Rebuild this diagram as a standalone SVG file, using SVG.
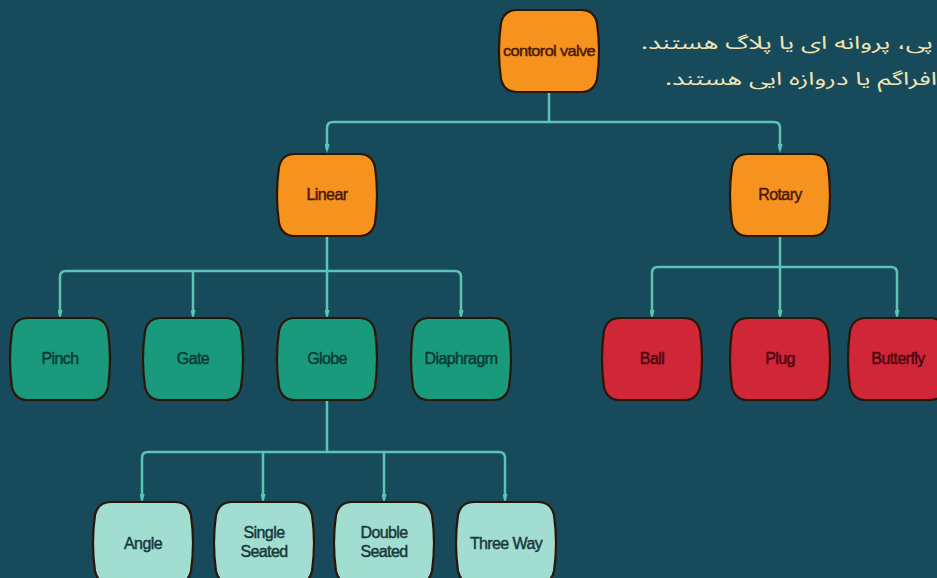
<svg xmlns="http://www.w3.org/2000/svg" xmlns:xlink="http://www.w3.org/1999/xlink" width="937" height="578" viewBox="0 0 937 578">
<style>
.bg{fill:#174a5a}
.node use{stroke:#2a1608;stroke-width:2.2}
.orange{fill:#f6921e}
.green{fill:#1a9a7c}
.red{fill:#cf2638}
.light{fill:#a2ddd2}
.lbl{font-family:"Liberation Sans",Arial,sans-serif;font-size:16px;text-anchor:middle;letter-spacing:-0.6px;stroke-width:0.45px}
.to{fill:#4a1a04;stroke:#4a1a04}
.tg{fill:#0d3a32;stroke:#0d3a32}
.tr{fill:#4d0810;stroke:#4d0810}
.tl{fill:#17393a;stroke:#17393a}
.conn{fill:none;stroke:#5cc4b6;stroke-width:2.5}
.fa{font-family:"Noto Sans Arabic","DejaVu Sans",sans-serif;font-size:18px;fill:#f3e4b4}
</style>
<defs>
<path id="shape" d="M18,0 H82 Q95,0 98,13 Q102,41 98,69 Q95,82 82,82 H18 Q5,82 2,69 Q-2,41 2,13 Q5,0 18,0 Z"/>
<marker id="arr" markerUnits="userSpaceOnUse" markerWidth="12" markerHeight="18" viewBox="-6 -16 12 18" refX="0" refY="0" orient="auto-start-reverse">
<path d="M-4,-14 H4 L0,0 Z" fill="none" stroke="#5cc4b6" stroke-width="1.8" transform="rotate(-90)"/>
</marker>
</defs>
<rect class="bg" width="937" height="578"/>
<text class="fa" x="641" y="49" direction="rtl" text-anchor="end" textLength="292" lengthAdjust="spacingAndGlyphs">پی، پروانه ای یا پلاگ هستند.</text>
<text class="fa" x="665" y="85" direction="rtl" text-anchor="end" textLength="272" lengthAdjust="spacingAndGlyphs">افراگم یا دروازه ایی هستند.</text>
<g id="connectors">
<path class="conn" d="M549,92 V122"/>
<path class="conn" d="M327,150 V128 Q327,122 333,122 H774 Q780,122 780,128 V150" marker-start="url(#arr)" marker-end="url(#arr)"/>
<path class="conn" d="M327,236 V271"/>
<path class="conn" d="M60,316 V277 Q60,271 66,271 H455 Q461,271 461,277 V316" marker-start="url(#arr)" marker-end="url(#arr)"/>
<path class="conn" d="M193,271 V316" marker-end="url(#arr)"/>
<path class="conn" d="M327,271 V316" marker-end="url(#arr)"/>
<path class="conn" d="M780,236 V267"/>
<path class="conn" d="M652,316 V273 Q652,267 658,267 H891 Q897,267 897,273 V316" marker-start="url(#arr)" marker-end="url(#arr)"/>
<path class="conn" d="M780,267 V316" marker-end="url(#arr)"/>
<path class="conn" d="M327,400 V452"/>
<path class="conn" d="M142,500 V458 Q142,452 148,452 H499 Q505,452 505,458 V500" marker-start="url(#arr)" marker-end="url(#arr)"/>
<path class="conn" d="M263,452 V500" marker-end="url(#arr)"/>
<path class="conn" d="M384,452 V500" marker-end="url(#arr)"/>
</g>
<g id="n-root" class="node orange"><use xlink:href="#shape" href="#shape" x="499" y="10"/><text class="lbl to" x="549" y="56" style="font-size:15px" textLength="92" lengthAdjust="spacingAndGlyphs">contorol valve</text></g>
<g id="n-linear" class="node orange"><use href="#shape" xlink:href="#shape" x="277" y="154"/><text class="lbl to" x="327" y="200">Linear</text></g>
<g id="n-rotary" class="node orange"><use href="#shape" xlink:href="#shape" x="730" y="154"/><text class="lbl to" x="780" y="200">Rotary</text></g>
<g id="n-pinch" class="node green"><use href="#shape" xlink:href="#shape" x="10" y="318"/><text class="lbl tg" x="60" y="364">Pinch</text></g>
<g id="n-gate" class="node green"><use href="#shape" xlink:href="#shape" x="143" y="318"/><text class="lbl tg" x="193" y="364">Gate</text></g>
<g id="n-globe" class="node green"><use href="#shape" xlink:href="#shape" x="277" y="318"/><text class="lbl tg" x="327" y="364">Globe</text></g>
<g id="n-diaphragm" class="node green"><use href="#shape" xlink:href="#shape" x="411" y="318"/><text class="lbl tg" x="461" y="364">Diaphragm</text></g>
<g id="n-ball" class="node red"><use href="#shape" xlink:href="#shape" x="602" y="318"/><text class="lbl tr" x="652" y="364">Ball</text></g>
<g id="n-plug" class="node red"><use href="#shape" xlink:href="#shape" x="730" y="318"/><text class="lbl tr" x="780" y="364">Plug</text></g>
<g id="n-butterfly" class="node red"><use href="#shape" xlink:href="#shape" x="848" y="318"/><text class="lbl tr" x="898" y="364">Butterfly</text></g>
<g id="n-angle" class="node light"><use href="#shape" xlink:href="#shape" x="93" y="502"/><text class="lbl tl" x="143" y="549">Angle</text></g>
<g id="n-single" class="node light"><use href="#shape" xlink:href="#shape" x="214" y="502"/><text class="lbl tl" x="264" y="538">Single</text><text class="lbl tl" x="264" y="557">Seated</text></g>
<g id="n-double" class="node light"><use href="#shape" xlink:href="#shape" x="334" y="502"/><text class="lbl tl" x="384" y="538">Double</text><text class="lbl tl" x="384" y="557">Seated</text></g>
<g id="n-three" class="node light"><use href="#shape" xlink:href="#shape" x="456" y="502"/><text class="lbl tl" x="506" y="549">Three Way</text></g>
</svg>
